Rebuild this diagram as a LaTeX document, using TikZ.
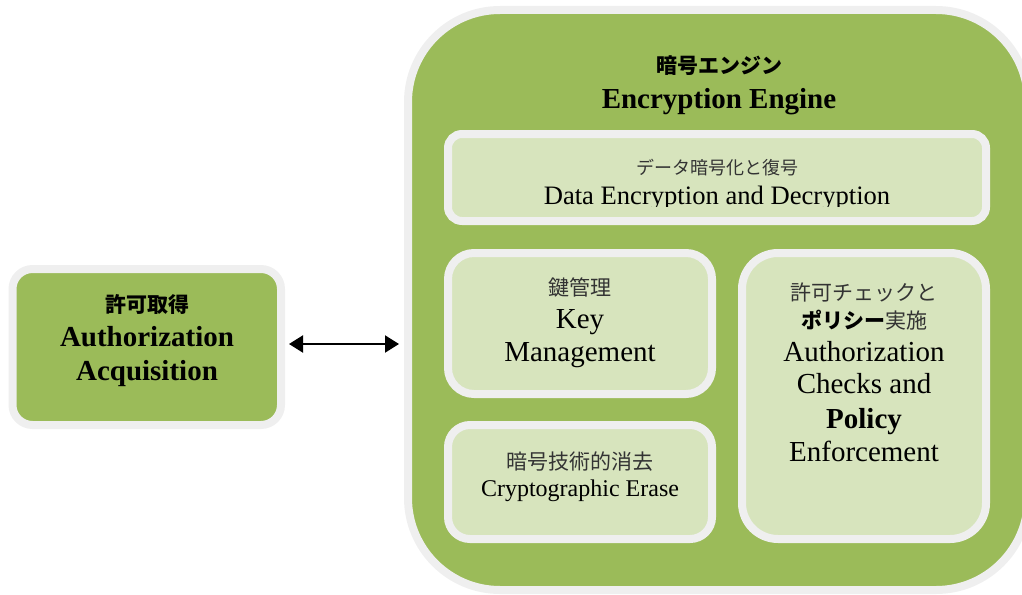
\documentclass[tikz,border=0pt]{standalone}
\usepackage{fontspec}
\setmainfont{Liberation Serif}
\newfontfamily\jp{Noto Sans CJK JP}
\usetikzlibrary{arrows.meta}
\definecolor{olive}{HTML}{9BBB59}
\definecolor{palegreen}{HTML}{D7E4BD}
\definecolor{rim}{HTML}{EFEFEF}
\definecolor{jptext}{HTML}{333333}
\tikzset{
  box/.style={draw=rim, line width=8pt, inner sep=0pt, rectangle},
  outerbox/.style={box, fill=olive},
  innerbox/.style={box, fill=palegreen},
  txt/.style={anchor=base, inner sep=0pt, text=black},
  jptxt/.style={anchor=base, inner sep=0pt, text=jptext},
  tipstyle/.style={line width=2pt, {Triangle[width=17pt,length=14pt]}-{Triangle[width=17pt,length=14pt]}},
}
\newcommand{\fs}[1]{\fontsize{#1}{#1}\selectfont}
\begin{document}
\begin{tikzpicture}[x=1pt,y=-1pt]
\useasboundingbox (0,0) rectangle (1022,594);
% left box
\node[outerbox, rounded corners=20pt, minimum width=268.5pt, minimum height=156pt] (acq) at (146.75,347) {};
\node[txt, font=\jp\bfseries\fs{21}] (acqjp) at (147,312) {許可取得};
\node[txt, font=\bfseries\fs{29}] (acq1) at (147,346) {Authorization};
\node[txt, font=\bfseries\fs{29}] (acq2) at (147,380) {Acquisition};
% big box
\node[outerbox, rounded corners=92pt, minimum width=620pt, minimum height=580pt] (eng) at (718,300) {};
\node[txt, font=\jp\bfseries\fs{21}] (engjp) at (719,74) {暗号エンジン};
\node[txt, font=\bfseries\fs{29}] (engen) at (719,108) {Encryption Engine};
% data box
\node[innerbox, rounded corners=14pt, minimum width=538pt, minimum height=87pt] (data) at (717,177.5) {};
\node[jptxt, font=\jp\fs{18}] (datajp) at (717,174) {データ暗号化と復号};
\begin{scope}
\clip (452,180) rectangle (982,206);
\node[txt, font=\fs{26.6}] (dataen) at (717,204) {Data Encryption and Decryption};
\end{scope}
% key management
\node[innerbox, rounded corners=26pt, minimum width=264pt, minimum height=141pt] (key) at (580,323.5) {};
\node[jptxt, font=\jp\fs{21}] (keyjp) at (580,295) {鍵管理};
\node[txt, font=\fs{29}] (key1) at (580,328) {Key};
\node[txt, font=\fs{29}] (key2) at (580,361) {Management};
% crypto erase
\node[innerbox, rounded corners=22pt, minimum width=264pt, minimum height=114pt] (erase) at (580,482) {};
\node[jptxt, font=\jp\fs{21}] (erasejp) at (580,469) {暗号技術的消去};
\node[txt, font=\fs{24}] (eraseen) at (580,496) {Cryptographic Erase};
% authorization checks
\node[innerbox, rounded corners=36pt, minimum width=244pt, minimum height=286pt] (auth) at (864,396) {};
\node[jptxt, font=\jp\fs{21}] (authjp1) at (864,300) {許可チェックと};
\node[jptxt, font=\jp\fs{21}] (authjp2) at (864,328) {{\bfseries\color{black}ポリシー}実施};
\node[txt, font=\fs{29}] (auth1) at (864,361) {Authorization};
\node[txt, font=\fs{29}] (auth2) at (864,393) {Checks and};
\node[txt, font=\bfseries\fs{29}] (auth3) at (864,428) {Policy};
\node[txt, font=\fs{29}] (auth4) at (864,461) {Enforcement};
% connector
\draw[tipstyle, shorten <=4pt, shorten >=5pt]
  ([yshift=3pt]acq.east) -- ([yshift=3pt]acq.east -| eng.west);
\end{tikzpicture}
\end{document}
